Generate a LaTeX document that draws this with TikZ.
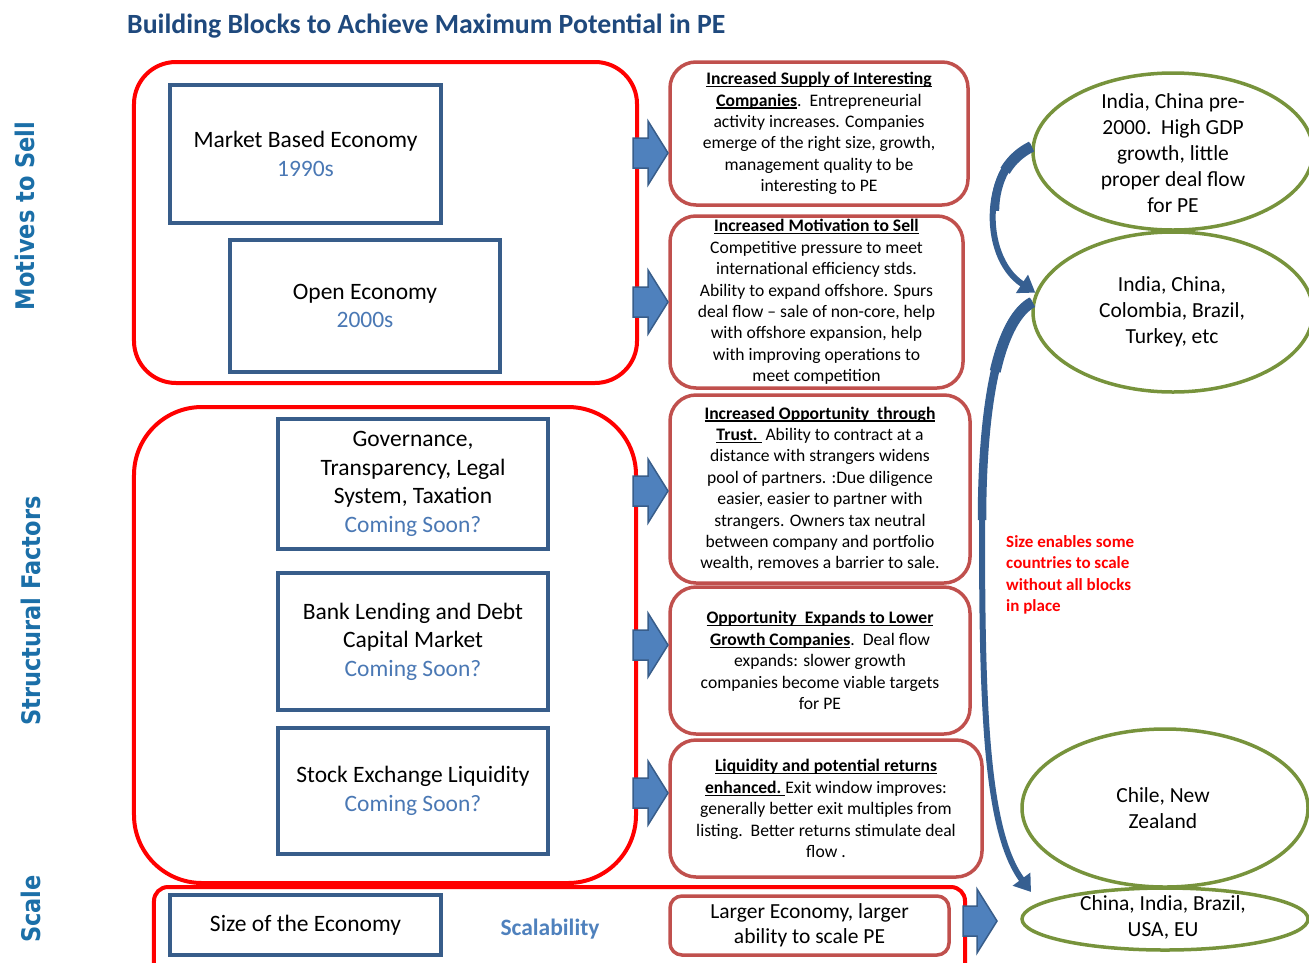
\documentclass[tikz,border=0pt]{standalone}
\usepackage{fontspec}
\setmainfont{Carlito}
\newfontfamily\verdanalike{DejaVu Sans}
\usetikzlibrary{arrows.meta,shapes.geometric}

\definecolor{titleblue}{HTML}{1F497D}
\definecolor{sideblue}{HTML}{1B6FA8}
\definecolor{framered}{HTML}{FF0000}
\definecolor{boxred}{HTML}{C0504D}
\definecolor{boxblue}{HTML}{385D8A}
\definecolor{softblue}{HTML}{4A78B4}
\definecolor{pushblue}{HTML}{4F81BD}
\definecolor{leafgreen}{HTML}{77933C}
\definecolor{curveblue}{HTML}{365F91}

\newcommand\titletext{\fontsize{27.8bp}{32bp}\selectfont\bfseries}
\newcommand\sidetext{\verdanalike\fontsize{22.5bp}{27bp}\selectfont\bfseries}
\newcommand\bigtext{\fontsize{23.5bp}{28.5bp}\selectfont}
\newcommand\smalltext{\fontsize{17.6bp}{21.4bp}\selectfont}
\newcommand\ovaltext{\fontsize{21.5bp}{26bp}\selectfont}
\newcommand\scaletext{\fontsize{21.5bp}{25bp}\selectfont}
\newcommand\notetext{\fontsize{17bp}{21.3bp}\selectfont\bfseries}
% row label, drawn slightly taller than the font's own shape
\newcommand\rowlabel[1]{\scalebox{1}[1.14]{#1}}
% bold heading with an underline at a fixed depth
\newsavebox\hdbox
\newcommand\hd[1]{\sbox\hdbox{\textbf{#1}}%
  \rlap{\rule[-2.6bp]{\wd\hdbox}{1.3bp}}\usebox\hdbox}

% block arrow: shaft start x, centre y, total length
\newcommand\pusharrow[3]{%
  \draw[pushfill] (#1,#2-15) -- (#1+#3-20,#2-15) -- (#1+#3-20,#2-32)
    -- (#1+#3,#2) -- (#1+#3-20,#2+32) -- (#1+#3-20,#2+15) -- (#1,#2+15) -- cycle;}

\tikzset{
  group/.style={draw=framered, line width=4bp, rectangle, inner sep=0pt},
  factor/.style={draw=boxblue, line width=3.5bp, rectangle, inner sep=0pt,
    align=center, font=\bigtext},
  effect/.style={draw=boxred, line width=3.5bp, rectangle, rounded corners=26bp,
    inner sep=0pt, align=center, font=\smalltext},
  oval/.style={draw=leafgreen, line width=3.5bp, ellipse, inner sep=0pt},
  ovaltxt/.style={align=center, font=\ovaltext, inner sep=0pt},
  sidelabel/.style={rotate=90, text=sideblue, font=\sidetext, inner sep=0pt},
  pushfill/.style={fill=pushblue, draw=boxblue, line width=1.5bp, line join=miter},
  curvearrow/.style={draw=curveblue, line width=6bp,
    -{Triangle[length=16bp,width=21bp]}},
  curvebody/.style={draw=curveblue, line width=#1},
}

\begin{document}
\begin{tikzpicture}[x=1bp,y=-1bp]
\useasboundingbox (0,0) rectangle (1309,962);
\clip (0,0) rectangle (1309,962);

% heading and row labels
\node[anchor=west, font=\titletext, text=titleblue, inner sep=0pt] (title)
  at (127,26) {Building Blocks to Achieve Maximum Potential in PE};
\node[sidelabel] (lblmotives) at (25,216) {\rowlabel{Motives to Sell}};
\node[sidelabel] (lblstruct) at (31,611) {\rowlabel{Structural Factors}};
\node[sidelabel] (lblscale) at (31,909) {\rowlabel{Scale}};

% red group frames
\node[group, rounded corners=42bp, minimum width=503bp, minimum height=321bp]
  (motives) at (385.5,222.5) {};
\node[group, rounded corners=68bp, minimum width=502bp, minimum height=476bp]
  (structural) at (385,645) {};
\node[group, rounded corners=14bp, minimum width=811bp, minimum height=103bp]
  (scalegrp) at (559.5,938.5) {};

% building blocks
\node[factor, minimum width=271bp, minimum height=138bp] (market) at (305.5,154)
  {Market Based Economy\\\textcolor{softblue}{1990s}};
\node[factor, minimum width=270bp, minimum height=132bp] (open) at (365,306)
  {Open Economy\\\textcolor{softblue}{2000s}};
\node[factor, minimum width=270bp, minimum height=130bp] (gov) at (413,484)
  {Governance,\\Transparency, Legal\\System, Taxation\\\textcolor{softblue}{Coming Soon?}};
\node[factor, minimum width=270bp, minimum height=137bp] (bank) at (413,641.5)
  {Bank Lending and Debt\\Capital Market\\\textcolor{softblue}{Coming Soon?}};
\node[factor, minimum width=270bp, minimum height=126bp] (stock) at (413,791)
  {Stock Exchange Liquidity\\\textcolor{softblue}{Coming Soon?}};
\node[factor, minimum width=271bp, minimum height=60bp] (size) at (305.5,925)
  {Size of the Economy};
\node[font=\bigtext\bfseries, text=pushblue, inner sep=0pt] (scalability)
  at (550,929) {Scalability};

% effects
\node[effect, minimum width=298bp, minimum height=143bp] (r1) at (819,133.5)
  {\hd{Increased Supply of Interesting}\\
   \hd{Companies}.\ \ Entrepreneurial\\
   activity increases. Companies\\
   emerge of the right size, growth,\\
   management quality to be\\
   interesting to PE};
\node[effect, minimum width=293bp, minimum height=172bp] (r2) at (816.5,302)
  {\hd{Increased Motivation to Sell}\\
   Competitive pressure to meet\\
   international efficiency stds.\\
   Ability to expand offshore. Spurs\\
   deal flow -- sale of non-core, help\\
   with offshore expansion, help\\
   with improving operations to\\
   meet competition};
\node[effect, minimum width=300bp, minimum height=188bp] (r3) at (820,489)
  {\hd{Increased Opportunity\ \ through}\\
   \hd{Trust.\ }\ Ability to contract at a\\
   distance with strangers widens\\
   pool of partners. :Due diligence\\
   easier, easier to partner with\\
   strangers. Owners tax neutral\\
   between company and portfolio\\
   wealth, removes a barrier to sale.};
\node[effect, minimum width=300bp, minimum height=147bp] (r4) at (820,660.5)
  {\hd{Opportunity\ \ Expands to Lower}\\
   \hd{Growth Companies}.\ \ Deal flow\\
   expands: slower growth\\
   companies become viable targets\\
   for PE};
\node[effect, minimum width=312bp, minimum height=137bp] (r5) at (826,808.5)
  {\hd{Liquidity and potential returns}\\
   \hd{enhanced.\ }Exit window improves:\\
   generally better exit multiples from\\
   listing.\ \ Better returns stimulate deal\\
   flow .};
\node[effect, rounded corners=12bp, font=\scaletext, minimum width=279bp,
  minimum height=59bp] (r6) at (809.5,925.5)
  {Larger Economy, larger\\ability to scale PE};

% block arrows from the frames to the effects
\pusharrow{633}{153}{35}
\pusharrow{633}{302}{35}
\pusharrow{633}{491}{35}
\pusharrow{633}{645}{35}
\pusharrow{633}{793}{35}
\pusharrow{963}{921}{34}

% country groups
\node[oval, minimum width=280bp, minimum height=157bp] (e1) at (1173,151.5) {};
\node[oval, minimum width=280bp, minimum height=160bp] (e2) at (1173,312) {};
\node[oval, minimum width=286bp, minimum height=158bp] (e3) at (1165,808) {};
\node[oval, minimum width=286bp, minimum height=62bp] (e4) at (1165,919) {};
\node[ovaltxt] (e1t) at (1173,153)
  {India, China pre-\\2000.\ \ High GDP\\growth, little\\proper deal flow\\for PE};
\node[ovaltxt] (e2t) at (1172,312) {India, China,\\Colombia, Brazil,\\Turkey, etc};
\node[ovaltxt] (e3t) at (1163,808) {Chile, New\\Zealand};
\node[ovaltxt] (e4t) at (1163,917) {China, India, Brazil,\\USA, EU};

% transitions between country groups: curved arrows, wider where they leave
\coordinate (tip2) at (1031,892);
\draw[curvebody=11bp] (e1.178) .. controls (1021,151.75) and (1011.6,159.75) .. (1005.1,170.8);
\draw[curvebody=8.5bp] (e1.178) .. controls (1009,154.5) and (995.25,181) .. (994.9,210.75);
\draw[curvearrow] (e1.178) .. controls (985,160) and (978,255) .. (e2.172);
\draw[curvebody=11bp] (e2.176) .. controls (1016.65,310.7) and (1003.8,334.1) .. (995.2,371.4);
\draw[curvebody=8.5bp] (e2.176) .. controls (1000,315) and (982,400) .. (982,520);
\draw[curvearrow] (e2.176) .. controls (1000,315) and (982,400) .. (982,520)
  .. controls (982,700) and (985,830) .. (tip2);

\node[anchor=west, align=left, text=framered, font=\notetext, inner sep=0pt]
  (note) at (1006,575)
  {Size enables some\\countries to scale\\without all blocks\\in place};
\end{tikzpicture}
\end{document}
